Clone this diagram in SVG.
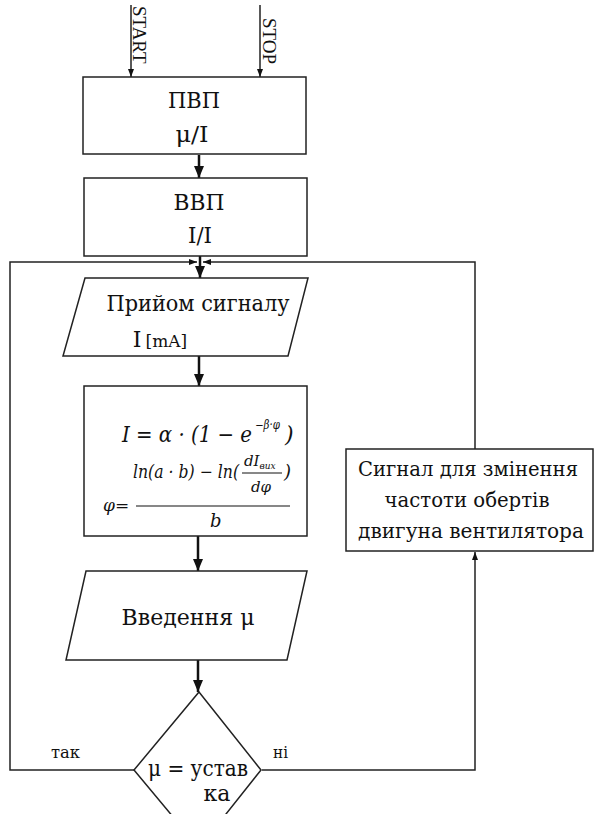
<svg xmlns="http://www.w3.org/2000/svg" width="594" height="814" viewBox="0 0 594 814">
<style>
.box{fill:#fff;stroke:#222;stroke-width:1.5}
.t{font-family:"DejaVu Serif","Liberation Serif",serif;font-size:22px;fill:#111;text-anchor:middle}
.s{font-size:20px}
.m{font-family:"DejaVu Serif","Liberation Serif",serif;font-style:italic;fill:#111}
.thick{stroke:#111;stroke-width:2.5;fill:none}
.thin{stroke:#222;stroke-width:1.5;fill:none}
.lbl{font-family:"Liberation Serif","DejaVu Serif",serif;font-size:19px;fill:#111}
.lc{font-family:"DejaVu Serif","Liberation Serif",serif;font-size:16px;fill:#111}
</style>
<defs>
<marker id="big" markerUnits="userSpaceOnUse" markerWidth="12" markerHeight="12" viewBox="0 0 12 12" refX="12" refY="6" orient="auto">
<path d="M0,1 L12,6 L0,11 Z" fill="#111"/>
</marker>
<marker id="small" markerUnits="userSpaceOnUse" markerWidth="8" markerHeight="8" viewBox="0 0 8 8" refX="8" refY="4" orient="auto">
<path d="M0,1 L8,4 L0,7 Z" fill="#111"/>
</marker>
</defs>

<g id="connectors">
<line class="thin" x1="131" y1="5" x2="131" y2="77" marker-end="url(#small)"/>
<line class="thin" x1="260" y1="5" x2="260" y2="77" marker-end="url(#small)"/>
<line class="thick" x1="199" y1="155" x2="199" y2="178" marker-end="url(#big)"/>
<line class="thick" x1="200" y1="256" x2="200" y2="278" marker-end="url(#big)"/>
<line class="thick" x1="199" y1="356" x2="199" y2="386" marker-end="url(#big)"/>
<line class="thick" x1="198" y1="536" x2="198" y2="571" marker-end="url(#big)"/>
<line class="thick" x1="198" y1="660" x2="198" y2="692" marker-end="url(#big)"/>
<polyline class="thin" points="134,770 10,770 10,262 197,262" marker-end="url(#small)"/>
<polyline class="thin" points="475,449 475,262 203,262" marker-end="url(#small)"/>
<polyline class="thin" points="262,770 475,770 475,552" marker-end="url(#small)"/>
<text class="lbl" x="133" y="6" transform="rotate(90 133 6)">START</text>
<text class="lbl" x="263" y="18" transform="rotate(90 263 18)">STOP</text>
<text class="lc" x="51" y="758" textLength="29" lengthAdjust="spacingAndGlyphs">так</text>
<text class="lc" x="273" y="758" textLength="15" lengthAdjust="spacingAndGlyphs">ні</text>
</g>

<g id="pvp">
<rect class="box" x="83" y="77" width="223" height="77"/>
<text class="t" x="194" y="108" textLength="52" lengthAdjust="spacingAndGlyphs">ПВП</text>
<text class="t" x="192" y="142" textLength="33" lengthAdjust="spacingAndGlyphs">μ/I</text>
</g>

<g id="vvp">
<rect class="box" x="84" y="178" width="223" height="78"/>
<text class="t" x="199" y="210" textLength="51" lengthAdjust="spacingAndGlyphs">ВВП</text>
<text class="t" x="200" y="243" textLength="24" lengthAdjust="spacingAndGlyphs">I/I</text>
</g>

<g id="receive">
<polygon class="box" points="85,278 308,278 288,356 63,356"/>
<text class="t" x="198" y="311" textLength="183" lengthAdjust="spacingAndGlyphs">Прийом сигналу</text>
<text class="t" x="160" y="347" text-anchor="start">I<tspan font-size="17" dx="4">[mA]</tspan></text>
</g>

<g id="formula">
<rect class="box" x="84" y="386" width="223" height="150"/>
<text class="m" x="122" y="442" font-size="22" textLength="130" lengthAdjust="spacingAndGlyphs">I = α · (1 − e</text>
<text class="m" x="255" y="429" font-size="12" textLength="25" lengthAdjust="spacingAndGlyphs">−β·φ</text>
<text class="m" x="285" y="442" font-size="22">)</text>
<text class="m" x="133" y="478" font-size="18" textLength="106" lengthAdjust="spacingAndGlyphs">ln(a · b) − ln(</text>
<text class="m" x="244" y="466" font-size="15">dI<tspan font-size="9" dy="3">вих</tspan></text>
<line x1="242" y1="473" x2="282" y2="473" stroke="#111" stroke-width="1"/>
<text class="m" x="251" y="492" font-size="15">dφ</text>
<text class="m" x="284" y="478" font-size="18">)</text>
<line x1="136" y1="506" x2="290" y2="506" stroke="#111" stroke-width="1.2"/>
<text class="m" x="103" y="511" font-size="17">φ=</text>
<text class="m" x="210" y="527" font-size="18">b</text>
</g>

<g id="signal">
<rect class="box" x="346" y="449" width="247" height="102"/>
<text class="t s" x="468" y="476" textLength="220" lengthAdjust="spacingAndGlyphs">Сигнал для змінення</text>
<text class="t s" x="467" y="507" textLength="165" lengthAdjust="spacingAndGlyphs">частоти обертів</text>
<text class="t s" x="471" y="538" textLength="226" lengthAdjust="spacingAndGlyphs">двигуна вентилятора</text>
</g>

<g id="input">
<polygon class="box" points="86,571 307,571 287,660 66,660"/>
<text class="t" x="188" y="625" textLength="133" lengthAdjust="spacingAndGlyphs">Введення  μ</text>
</g>

<g id="decision">
<polygon class="box" points="199,692 261,770 199,848 134,770"/>
<text class="t" x="198" y="776" textLength="100" lengthAdjust="spacingAndGlyphs">μ = устав</text>
<text class="t" x="217" y="801">ка</text>
</g>
</svg>
